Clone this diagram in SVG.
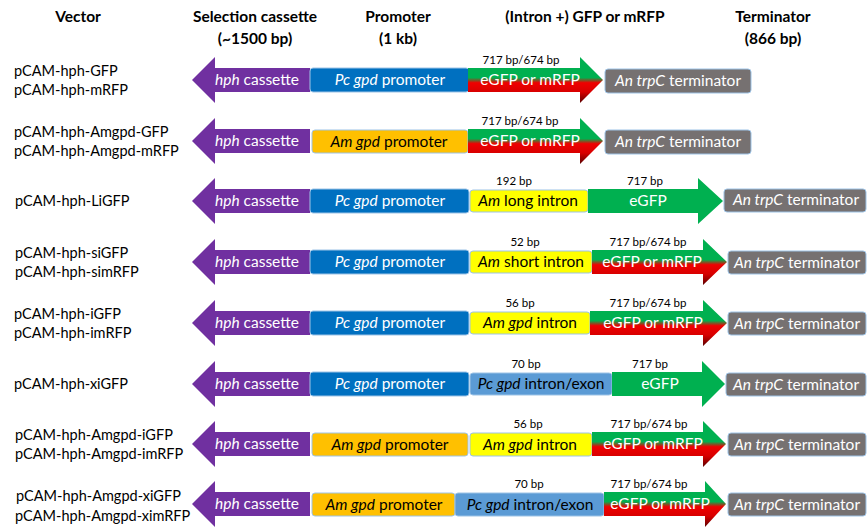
<svg xmlns="http://www.w3.org/2000/svg" width="867" height="527" viewBox="0 0 867 527">
<style>
text{font-family:Lato,"Liberation Sans",sans-serif;}
.hd{font-size:15.5px;font-weight:bold;fill:#000;text-anchor:middle;}
.vn{font-size:14.5px;fill:#000;}
.bw{font-size:15.5px;fill:#fff;text-anchor:middle;}
.bk{font-size:15.5px;fill:#000;text-anchor:middle;}
.sm{font-size:11.5px;fill:#000;text-anchor:middle;}
.it{font-style:italic;}
.hph{fill:#7030A0;}
.pc{fill:#0070C0;stroke:#9DC3E6;stroke-width:1;}
.am{fill:#FFC000;stroke:#9DC3E6;stroke-width:1;}
.yi{fill:#FFFF00;stroke:#9DC3E6;stroke-width:1;}
.ie{fill:#5B9BD5;stroke:#9DC3E6;stroke-width:1;}
.term{fill:#767171;stroke:#9DC3E6;stroke-width:1;}
.gr{fill:url(#gfprfp);}
.gf{fill:#00B050;}
</style>
<defs>
<linearGradient id="gfprfp" x1="0" y1="0" x2="0" y2="1">
<stop offset="0" stop-color="#00B050"/>
<stop offset="0.45" stop-color="#00B050"/>
<stop offset="0.56" stop-color="#F00000"/>
<stop offset="0.76" stop-color="#D80000"/>
<stop offset="1" stop-color="#5A0000"/>
</linearGradient>
</defs>
<g id="headers">
<text class="hd" x="78" y="22">Vector</text>
<text class="hd" x="255" y="22">Selection cassette</text>
<text class="hd" x="255" y="44">(~1500 bp)</text>
<text class="hd" x="398" y="22">Promoter</text>
<text class="hd" x="398" y="44">(1 kb)</text>
<text class="hd" x="585" y="22">(Intron +) GFP or mRFP</text>
<text class="hd" x="773" y="22">Terminator</text>
<text class="hd" x="773" y="44">(866 bp)</text>
</g>
<g id="connectors"></g>

<!-- Row 1 -->
<g id="row1" transform="translate(0,80)">
<g id="r1-name"><text class="vn" x="14" y="-4">pCAM-hph-GFP</text><text class="vn" x="14" y="15">pCAM-hph-mRFP</text></g>
<g id="r1-hph"><path class="hph" d="M192,0 L215,-23 L215,-12 L310,-12 L310,12 L215,12 L215,23 Z"/><text class="bw" x="257" y="5"><tspan class="it">hph</tspan> cassette</text></g>
<g id="r1-prom"><rect class="pc" x="310" y="-12" width="159" height="24" rx="3"/><text class="bw" x="390" y="5"><tspan class="it">Pc gpd</tspan> promoter</text></g>
<g id="r1-gfp"><path class="gr" d="M468,-12 L580,-12 L580,-23 L603,0 L580,23 L580,12 L468,12 Z"/><text class="bw" x="530" y="5">eGFP or mRFP</text><text class="sm" x="521" y="-16">717 bp/674 bp</text></g>
<g id="r1-term"><rect class="term" x="605" y="-11" width="146" height="24" rx="3"/><text class="bw" x="678" y="6"><tspan class="it">An trpC</tspan> terminator</text></g>
</g>

<!-- Row 2 -->
<g id="row2" transform="translate(0,141)">
<g id="r2-name"><text class="vn" x="14" y="-4">pCAM-hph-Amgpd-GFP</text><text class="vn" x="14" y="15">pCAM-hph-Amgpd-mRFP</text></g>
<g id="r2-hph"><path class="hph" d="M192,0 L215,-23 L215,-12 L310,-12 L310,12 L215,12 L215,23 Z"/><text class="bw" x="257" y="5"><tspan class="it">hph</tspan> cassette</text></g>
<g id="r2-prom"><rect class="am" x="312" y="-11" width="156" height="23" rx="3"/><text class="bk" x="389" y="6"><tspan class="it">Am gpd</tspan> promoter</text></g>
<g id="r2-gfp"><path class="gr" d="M468,-12 L580,-12 L580,-23 L603,0 L580,23 L580,12 L468,12 Z"/><text class="bw" x="530" y="5">eGFP or mRFP</text><text class="sm" x="520" y="-16">717 bp/674 bp</text></g>
<g id="r2-term"><rect class="term" x="605" y="-11" width="146" height="24" rx="3"/><text class="bw" x="678" y="6"><tspan class="it">An trpC</tspan> terminator</text></g>
</g>

<!-- Row 3 -->
<g id="row3" transform="translate(0,201)">
<g id="r3-name"><text class="vn" x="15" y="5">pCAM-hph-LiGFP</text></g>
<g id="r3-hph"><path class="hph" d="M192,0 L215,-23 L215,-12 L310,-12 L310,12 L215,12 L215,23 Z"/><text class="bw" x="257" y="5"><tspan class="it">hph</tspan> cassette</text></g>
<g id="r3-prom"><rect class="pc" x="310" y="-12" width="159" height="24" rx="3"/><text class="bw" x="390" y="5"><tspan class="it">Pc gpd</tspan> promoter</text></g>
<g id="r3-intron"><rect class="yi" x="470" y="-11" width="118" height="22" rx="3"/><text class="bk" x="528" y="5"><tspan class="it">Am</tspan> long intron</text><text class="sm" x="514" y="-16">192 bp</text></g>
<g id="r3-gfp"><path class="gf" d="M588,-12 L698,-12 L698,-23 L723,0 L698,23 L698,12 L588,12 Z"/><text class="bw" x="648" y="5">eGFP</text><text class="sm" x="645" y="-16">717 bp</text></g>
<g id="r3-term"><rect class="term" x="724" y="-12" width="142" height="23" rx="3"/><text class="bw" x="796" y="4"><tspan class="it">An trpC</tspan> terminator</text></g>
</g>

<!-- Row 4 -->
<g id="row4" transform="translate(0,262)">
<g id="r4-name"><text class="vn" x="15" y="-4">pCAM-hph-siGFP</text><text class="vn" x="15" y="15">pCAM-hph-simRFP</text></g>
<g id="r4-hph"><path class="hph" d="M192,0 L215,-23 L215,-12 L310,-12 L310,12 L215,12 L215,23 Z"/><text class="bw" x="257" y="5"><tspan class="it">hph</tspan> cassette</text></g>
<g id="r4-prom"><rect class="pc" x="310" y="-12" width="159" height="24" rx="3"/><text class="bw" x="390" y="5"><tspan class="it">Pc gpd</tspan> promoter</text></g>
<g id="r4-intron"><rect class="yi" x="470" y="-11" width="122" height="22" rx="3"/><text class="bk" x="531" y="5"><tspan class="it">Am</tspan> short intron</text><text class="sm" x="525" y="-16">52 bp</text></g>
<g id="r4-gfp"><path class="gr" d="M592,-12 L703,-12 L703,-23 L727,0 L703,23 L703,12 L592,12 Z"/><text class="bw" x="652" y="5">eGFP or mRFP</text><text class="sm" x="648" y="-16">717 bp/674 bp</text></g>
<g id="r4-term"><rect class="term" x="728" y="-11" width="138" height="23" rx="3"/><text class="bw" x="797" y="6"><tspan class="it">An trpC</tspan> terminator</text></g>
</g>

<!-- Row 5 -->
<g id="row5" transform="translate(0,323)">
<g id="r5-name"><text class="vn" x="14" y="-4">pCAM-hph-iGFP</text><text class="vn" x="14" y="15">pCAM-hph-imRFP</text></g>
<g id="r5-hph"><path class="hph" d="M192,0 L215,-23 L215,-12 L310,-12 L310,12 L215,12 L215,23 Z"/><text class="bw" x="257" y="5"><tspan class="it">hph</tspan> cassette</text></g>
<g id="r5-prom"><rect class="pc" x="310" y="-12" width="159" height="24" rx="3"/><text class="bw" x="390" y="5"><tspan class="it">Pc gpd</tspan> promoter</text></g>
<g id="r5-intron"><rect class="yi" x="470" y="-11" width="120" height="22" rx="3"/><text class="bk" x="530" y="5"><tspan class="it">Am gpd</tspan> intron</text><text class="sm" x="520" y="-16">56 bp</text></g>
<g id="r5-gfp"><path class="gr" d="M590,-12 L703,-12 L703,-23 L727,0 L703,23 L703,12 L590,12 Z"/><text class="bw" x="653" y="5">eGFP or mRFP</text><text class="sm" x="648" y="-16">717 bp/674 bp</text></g>
<g id="r5-term"><rect class="term" x="728" y="-11" width="138" height="23" rx="3"/><text class="bw" x="797" y="6"><tspan class="it">An trpC</tspan> terminator</text></g>
</g>

<!-- Row 6 -->
<g id="row6" transform="translate(0,384)">
<g id="r6-name"><text class="vn" x="14" y="5">pCAM-hph-xiGFP</text></g>
<g id="r6-hph"><path class="hph" d="M192,0 L215,-23 L215,-12 L310,-12 L310,12 L215,12 L215,23 Z"/><text class="bw" x="257" y="5"><tspan class="it">hph</tspan> cassette</text></g>
<g id="r6-prom"><rect class="pc" x="310" y="-12" width="159" height="24" rx="3"/><text class="bw" x="390" y="5"><tspan class="it">Pc gpd</tspan> promoter</text></g>
<g id="r6-intron"><rect class="ie" x="470" y="-11" width="142" height="22" rx="3"/><text class="bk" x="541" y="5"><tspan class="it">Pc gpd</tspan> intron/exon</text><text class="sm" x="526" y="-16">70 bp</text></g>
<g id="r6-gfp"><path class="gf" d="M612,-12 L702,-12 L702,-23 L725,0 L702,23 L702,12 L612,12 Z"/><text class="bw" x="660" y="5">eGFP</text><text class="sm" x="650" y="-16">717 bp</text></g>
<g id="r6-term"><rect class="term" x="726" y="-11" width="140" height="23" rx="3"/><text class="bw" x="796" y="6"><tspan class="it">An trpC</tspan> terminator</text></g>
</g>

<!-- Row 7 -->
<g id="row7" transform="translate(0,444)">
<g id="r7-name"><text class="vn" x="15" y="-4">pCAM-hph-Amgpd-iGFP</text><text class="vn" x="15" y="15">pCAM-hph-Amgpd-imRFP</text></g>
<g id="r7-hph"><path class="hph" d="M192,0 L215,-23 L215,-12 L310,-12 L310,12 L215,12 L215,23 Z"/><text class="bw" x="257" y="5"><tspan class="it">hph</tspan> cassette</text></g>
<g id="r7-prom"><rect class="am" x="312" y="-11" width="156" height="23" rx="3"/><text class="bk" x="390" y="6"><tspan class="it">Am gpd</tspan> promoter</text></g>
<g id="r7-intron"><rect class="yi" x="470" y="-11" width="122" height="23" rx="3"/><text class="bk" x="530" y="6"><tspan class="it">Am gpd</tspan> intron</text><text class="sm" x="528" y="-16">56 bp</text></g>
<g id="r7-gfp"><path class="gr" d="M592,-12 L703,-12 L703,-23 L726,0 L703,23 L703,12 L592,12 Z"/><text class="bw" x="653" y="5">eGFP or mRFP</text><text class="sm" x="649" y="-16">717 bp/674 bp</text></g>
<g id="r7-term"><rect class="term" x="728" y="-11" width="138" height="23" rx="3"/><text class="bw" x="797" y="6"><tspan class="it">An trpC</tspan> terminator</text></g>
</g>

<!-- Row 8 -->
<g id="row8" transform="translate(0,504)">
<g id="r8-name"><text class="vn" x="16" y="-3">pCAM-hph-Amgpd-xiGFP</text><text class="vn" x="15" y="17">pCAM-hph-Amgpd-ximRFP</text></g>
<g id="r8-hph"><path class="hph" d="M192,0 L215,-23 L215,-12 L310,-12 L310,12 L215,12 L215,23 Z"/><text class="bw" x="257" y="5"><tspan class="it">hph</tspan> cassette</text></g>
<g id="r8-prom"><rect class="am" x="312" y="-11" width="143" height="23" rx="3"/><text class="bk" x="384" y="6"><tspan class="it">Am gpd</tspan> promoter</text></g>
<g id="r8-intron"><rect class="ie" x="455" y="-11" width="149" height="23" rx="3"/><text class="bk" x="530" y="6"><tspan class="it">Pc gpd</tspan> intron/exon</text><text class="sm" x="529" y="-16">70 bp</text></g>
<g id="r8-gfp"><path class="gr" d="M604,-12 L705,-12 L705,-23 L726,0 L705,23 L705,12 L604,12 Z"/><text class="bw" x="660" y="5">eGFP or mRFP</text><text class="sm" x="649" y="-16">717 bp/674 bp</text></g>
<g id="r8-term"><rect class="term" x="728" y="-11" width="138" height="23" rx="3"/><text class="bw" x="797" y="6"><tspan class="it">An trpC</tspan> terminator</text></g>
</g>
</svg>
